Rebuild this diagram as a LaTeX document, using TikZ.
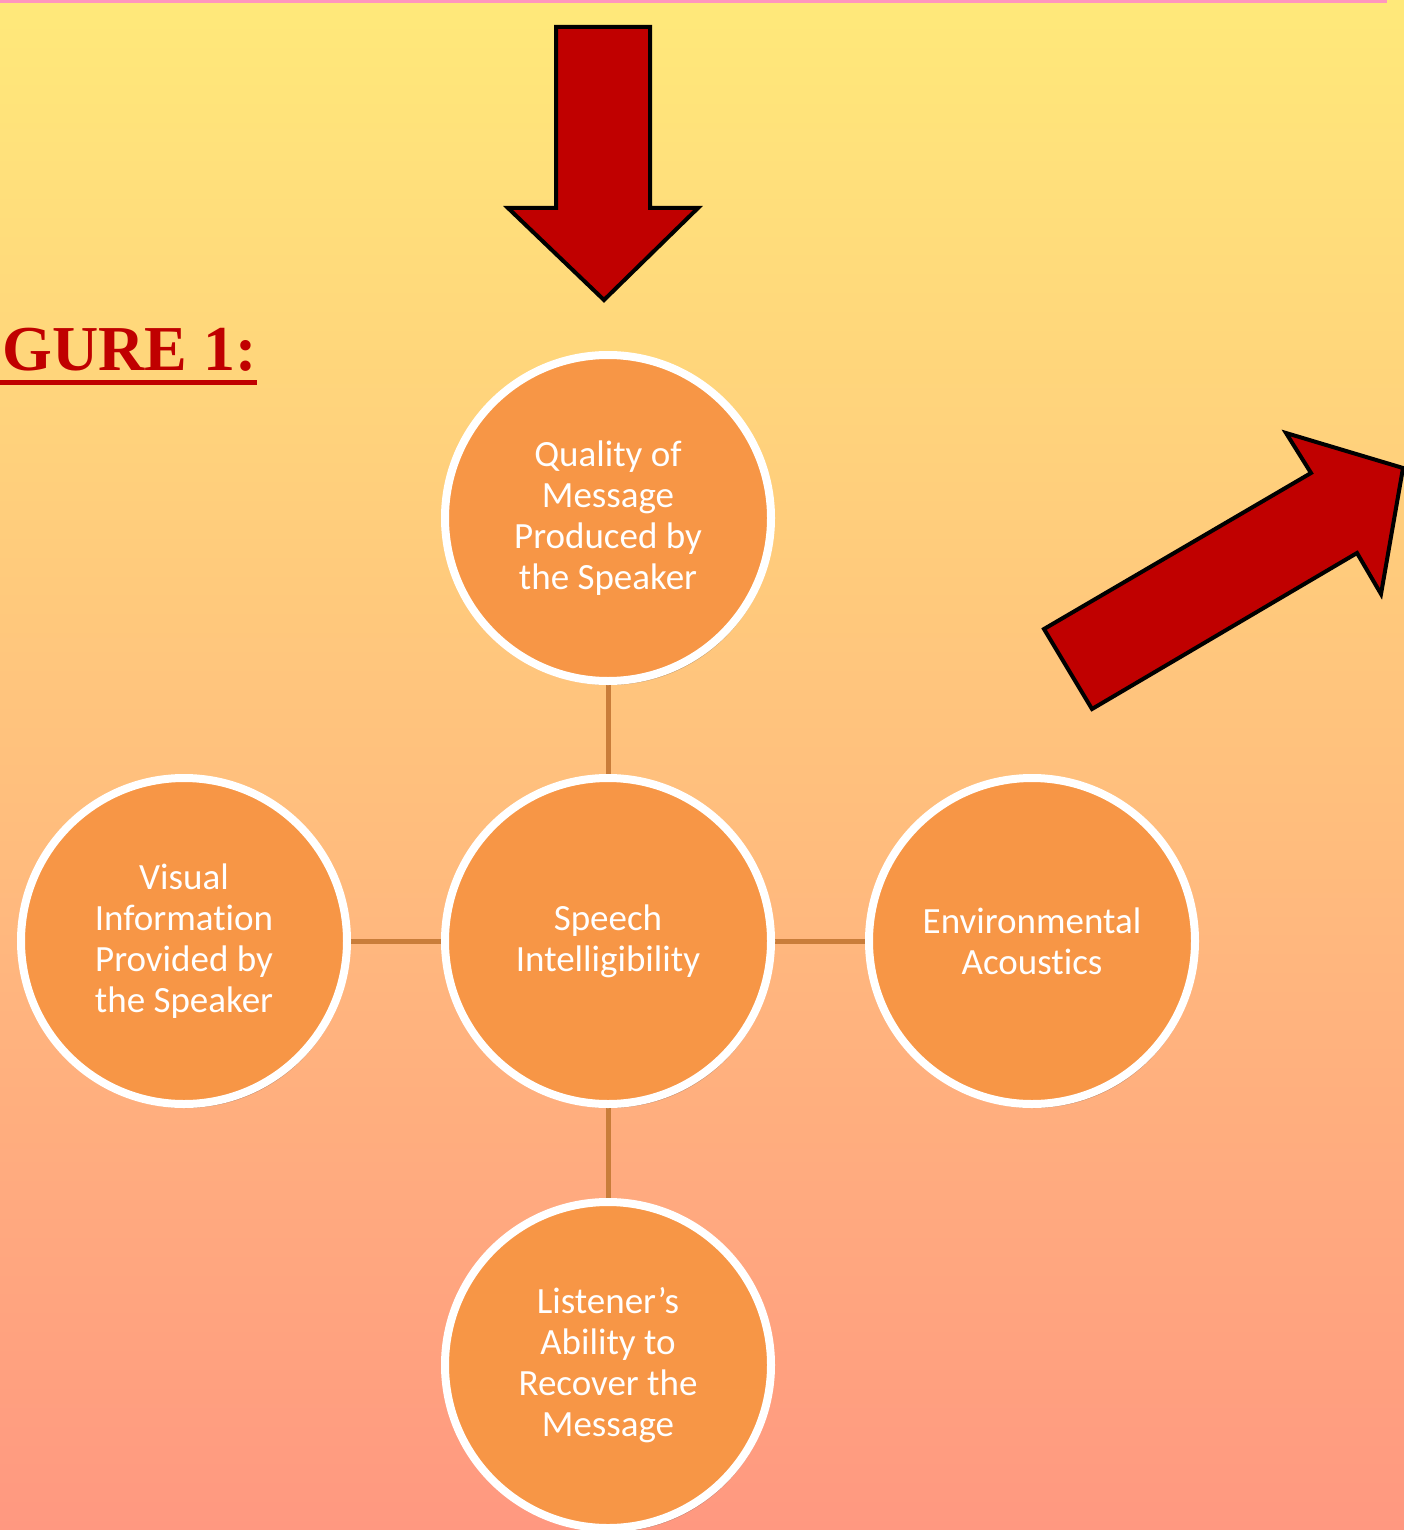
\documentclass[tikz,border=0pt]{standalone}
\usepackage{fontspec}
\setmainfont[Ligatures=NoCommon]{Carlito}
\newfontfamily\figfont{Liberation Serif}
\usetikzlibrary{shadows}
\pgfdeclarelayer{bg}
\pgfdeclarelayer{conn}
\pgfsetlayers{bg,conn,main}
\definecolor{bgtop}{RGB}{255,233,122}
\definecolor{bgmid}{RGB}{253,197,124}
\definecolor{bgbot}{RGB}{255,152,128}
\definecolor{orangefill}{RGB}{247,150,70}
\definecolor{connclr}{RGB}{201,125,58}
\definecolor{arrowred}{RGB}{192,0,0}
\definecolor{pinkline}{RGB}{255,150,190}
\tikzset{
  bubble/.style={circle, minimum size=326pt, inner sep=0pt, fill=orangefill, draw=white, line width=8pt,
    text=white, align=center, font=\fontsize{37}{41}\selectfont,
    drop shadow={shadow xshift=2pt, shadow yshift=-4pt, opacity=0.35, fill=black!70}},
  link/.style={draw=connclr, line width=5pt},
  bigarrow/.style={fill=arrowred, draw=black, line width=4pt, line join=miter}
}
\begin{document}
\begin{tikzpicture}[x=1pt,y=-1pt]
\useasboundingbox (0,0) rectangle (1404,1530);
\clip (0,0) rectangle (1404,1530);
\begin{pgfonlayer}{bg}
\shade[top color=bgtop, middle color=bgmid, bottom color=bgbot] (0,0) rectangle (1404,1530);
\fill[pinkline] (0,0) rectangle (1387,3);
\end{pgfonlayer}
% title
\node[anchor=base east, inner sep=0pt, text=arrowred, font=\figfont\bfseries\fontsize{64}{72}\selectfont] (title) at (257,370) {FIGURE 1:};
\fill[arrowred] (0,380) rectangle (257,385);
% arrows
\draw[bigarrow] (556,27) -- (650,27) -- (650,208) -- (698,208) -- (604,300) -- (508,208) -- (556,208) -- cycle;
\draw[bigarrow] (1044,629) -- (1311,473) -- (1286,433) -- (1403,468) -- (1381,594) -- (1357,553) -- (1092,709) -- cycle;
% bubbles
\node[bubble] (top) at (608,518) {Quality of\\Message\\Produced by\\the Speaker};
\node[bubble] (mid) at (608,941) {Speech\\Intelligibility};
\node[bubble] (left) at (184,941) {Visual\\Information\\Provided by\\the Speaker};
\node[bubble] (right) at (1032,941) {Environmental\\Acoustics};
\node[bubble] (bot) at (608,1365) {Listener’s\\Ability to\\Recover the\\Message};
\begin{pgfonlayer}{conn}
\draw[link] (top) -- (mid);
\draw[link] (mid) -- (bot);
\draw[link] (mid) -- (left);
\draw[link] (mid) -- (right);
\end{pgfonlayer}
\end{tikzpicture}
\end{document}
